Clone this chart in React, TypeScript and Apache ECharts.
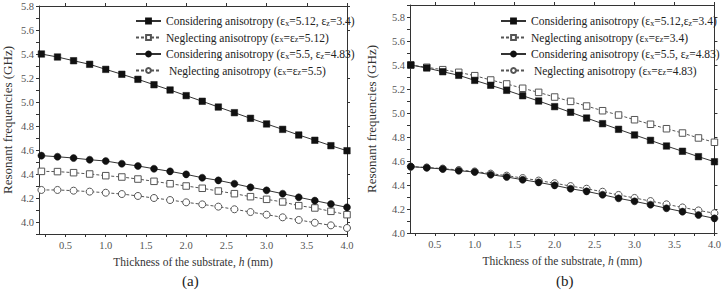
import React, { useEffect, useRef } from "react";
import * as echarts from "echarts";

// Thickness h (mm)
const H = [0.2, 0.4, 0.6, 0.8, 1.0, 1.2, 1.4, 1.6, 1.8, 2.0, 2.2, 2.4, 2.6, 2.8, 3.0, 3.2, 3.4, 3.6, 3.8, 4.0];

// (a) and (b) shared: considering anisotropy
const consA = [5.40, 5.375, 5.344, 5.314, 5.272, 5.231, 5.189, 5.144, 5.100, 5.053, 5.006, 4.958, 4.911, 4.864, 4.817, 4.772, 4.725, 4.681, 4.636, 4.594];
const consB = [4.553, 4.544, 4.533, 4.519, 4.508, 4.486, 4.467, 4.444, 4.422, 4.397, 4.369, 4.347, 4.319, 4.289, 4.264, 4.236, 4.206, 4.178, 4.150, 4.122];
// (a) neglecting
const negA512 = [4.422, 4.420, 4.411, 4.400, 4.386, 4.375, 4.358, 4.339, 4.319, 4.300, 4.281, 4.258, 4.236, 4.211, 4.189, 4.167, 4.136, 4.117, 4.089, 4.061];
const negA55 = [4.267, 4.267, 4.261, 4.253, 4.244, 4.233, 4.217, 4.200, 4.183, 4.164, 4.147, 4.128, 4.106, 4.083, 4.061, 4.039, 4.017, 3.994, 3.972, 3.950];
// (b) neglecting
const negB34 = [5.400, 5.381, 5.361, 5.339, 5.311, 5.275, 5.242, 5.206, 5.172, 5.133, 5.097, 5.058, 5.019, 4.983, 4.944, 4.906, 4.869, 4.833, 4.792, 4.756];
const negB483 = [4.553, 4.546, 4.537, 4.525, 4.513, 4.495, 4.478, 4.458, 4.437, 4.415, 4.391, 4.369, 4.344, 4.317, 4.292, 4.266, 4.239, 4.213, 4.188, 4.165];

const xMajor = [0.5, 1.0, 1.5, 2.0, 2.5, 3.0, 3.5, 4.0];
const xMinor = [0.25, 0.5, 0.75, 1.0, 1.25, 1.5, 1.75, 2.0, 2.25, 2.5, 2.75, 3.0, 3.25, 3.5, 3.75, 4.0];
const yMajor = [4.0, 4.2, 4.4, 4.6, 4.8, 5.0, 5.2, 5.4, 5.6, 5.8];
const yMinorA = [3.9, 4.0, 4.1, 4.2, 4.3, 4.4, 4.5, 4.6, 4.7, 4.8, 4.9, 5.0, 5.1, 5.2, 5.3, 5.4, 5.5, 5.6, 5.7, 5.8];
const yMinorB = [4.0, 4.1, 4.2, 4.3, 4.4, 4.5, 4.6, 4.7, 4.8, 4.9, 5.0, 5.1, 5.2, 5.3, 5.4, 5.5, 5.6, 5.7, 5.8, 5.9];

const nameL1 = "Considering anisotropy (εx=5.12, εz=3.4)";
const nameL2 = "Neglecting anisotropy (εx=εz=5.12)";
const nameC2 = "Considering anisotropy (εx=5.5, εz=4.83)";
const nameL4 = "Neglecting anisotropy (εx=εz=5.5)";
const nameR1 = "Considering anisotropy (εx=5.12,εz=3.4)";
const nameR2 = "Neglecting anisotropy (εx=εz=3.4)";
const nameR4 = "Neglecting anisotropy (εx=εz=4.83)";

const FONT = "Liberation Serif";
const LINE = "#333";

const pairs = (ys: number[]) => H.map((h, i) => [h, ys[i]]);

function mkSeries(name: string, ys: number[], idx: number, kind: "fs" | "os" | "fc" | "oc") {
  const filled = kind === "fs" || kind === "fc";
  const sym = kind === "fs" || kind === "os" ? "rect" : "circle";
  return {
    type: "line",
    name,
    xAxisIndex: idx * 2,
    yAxisIndex: idx * 2,
    data: pairs(ys),
    symbol: sym,
    symbolSize: sym === "rect" ? 6.5 : 7,
    showAllSymbol: true,
    lineStyle: { color: filled ? LINE : "#555", width: 1, type: filled ? "solid" : [3, 2] },
    itemStyle: filled
      ? { color: "#111", borderColor: "#111", borderWidth: 0.5 }
      : { color: "#fff", borderColor: "#555", borderWidth: 1 },
    emphasis: { disabled: true },
    z: filled ? 3 : 2,
  };
}

function axesFor(gridIndex: number, xmin: number, ymin: number, ymax: number, yMinor: number[], yNameGap: number) {
  const tickLabel = { color: "#555", fontFamily: FONT, fontSize: 10.5 };
  const xs = [
    {
      type: "value",
      gridIndex,
      min: xmin,
      max: 4.0,
      position: "bottom",
      name: "Thickness of the substrate, {i|h} (mm)",
      nameLocation: "middle",
      nameGap: 21,
      nameTextStyle: {
        fontFamily: FONT,
        fontSize: 11.5,
        color: "#333",
        rich: { i: { fontStyle: "italic", fontFamily: FONT, fontSize: 11.5, color: "#333" } },
      },
      axisLine: { show: true, lineStyle: { color: LINE, width: 1 } },
      axisTick: { show: true, inside: false, length: 3, customValues: xMinor, lineStyle: { color: LINE } },
      axisLabel: { ...tickLabel, margin: 6, customValues: xMajor, formatter: (v: number) => v.toFixed(1) },
      splitLine: { show: false },
    },
    {
      type: "value",
      gridIndex,
      min: xmin,
      max: 4.0,
      position: "top",
      axisLine: { show: true, lineStyle: { color: LINE, width: 1 } },
      axisTick: { show: true, inside: false, length: 3, customValues: xMajor, lineStyle: { color: LINE } },
      axisLabel: { show: false },
      splitLine: { show: false },
    },
  ];
  const ys = [
    {
      type: "value",
      gridIndex,
      min: ymin,
      max: ymax,
      position: "left",
      name: "Resonant frequencies (GHz)",
      nameLocation: "middle",
      nameGap: yNameGap,
      nameRotate: 90,
      nameTextStyle: { fontFamily: FONT, fontSize: 13, color: "#333" },
      axisLine: { show: true, lineStyle: { color: LINE, width: 1 } },
      axisTick: { show: true, inside: false, length: 3, customValues: yMinor, lineStyle: { color: LINE } },
      axisLabel: { ...tickLabel, margin: 5, customValues: yMajor, formatter: (v: number) => v.toFixed(1) },
      splitLine: { show: false },
    },
    {
      type: "value",
      gridIndex,
      min: ymin,
      max: ymax,
      position: "right",
      axisLine: { show: true, lineStyle: { color: LINE, width: 1 } },
      axisTick: { show: true, inside: false, length: 3, customValues: yMajor, lineStyle: { color: LINE } },
      axisLabel: { show: false },
      splitLine: { show: false },
    },
  ];
  return { xs, ys };
}

const legendFormatter = (name: string) => {
  const lead = name === nameL4 || name === nameR4 ? " " : "";
  return lead + name.replace(/ε([xz])/g, "ε{s|$1}");
};

function mkLegend(left: number, data: string[]) {
  return {
    orient: "vertical",
    left,
    top: 4,
    itemWidth: 25,
    itemHeight: 6,
    itemGap: -1.5,
    data,
    formatter: legendFormatter,
    selectedMode: false,
    textStyle: {
      fontFamily: FONT,
      fontSize: 11.5,
      color: "#222",
      lineHeight: 12,
      rich: {
        s: { fontFamily: FONT, fontSize: 8, color: "#222", lineHeight: 8, verticalAlign: "bottom", padding: [10, 0, 0, 0] },
      },
    },
  };
}

export default function App() {
  const ref = useRef<HTMLDivElement>(null);
  useEffect(() => {
    if (!ref.current) return;
    const chart = echarts.init(ref.current, null, { renderer: "svg" });
    const a = axesFor(0, 0.17, 3.9, 5.8, yMinorA, 25);
    const b = axesFor(1, 0.19, 4.0, 5.9, yMinorB, 32);
    chart.setOption({
      animation: false,
      backgroundColor: "#fff",
      grid: [
        { left: 36, top: 6, width: 311, height: 228, containLabel: false },
        { left: 410, top: 5, width: 309, height: 228, containLabel: false },
      ],
      xAxis: [...a.xs, ...b.xs],
      yAxis: [...a.ys, ...b.ys],
      legend: [mkLegend(130, [nameL1, nameL2, nameC2, nameL4]), mkLegend(495, [nameR1, nameR2, nameC2, nameR4])],
      series: [
        mkSeries(nameL1, consA, 0, "fs"),
        mkSeries(nameL2, negA512, 0, "os"),
        mkSeries(nameC2, consB, 0, "fc"),
        mkSeries(nameL4, negA55, 0, "oc"),
        mkSeries(nameR1, consA, 1, "fs"),
        mkSeries(nameR2, negB34, 1, "os"),
        mkSeries(nameC2, consB, 1, "fc"),
        mkSeries(nameR4, negB483, 1, "oc"),
      ],
      graphic: [
        { type: "text", left: 182, top: 273, style: { text: "(a)", fontFamily: FONT, fontSize: 15, fill: "#222" } },
        { type: "text", left: 556, top: 273, style: { text: "(b)", fontFamily: FONT, fontSize: 15, fill: "#222" } },
      ],
    });
    return () => chart.dispose();
  }, []);
  return <div ref={ref} style={{ position: "fixed", left: 0, top: 0, width: 724, height: 290, background: "#fff" }} />;
}
